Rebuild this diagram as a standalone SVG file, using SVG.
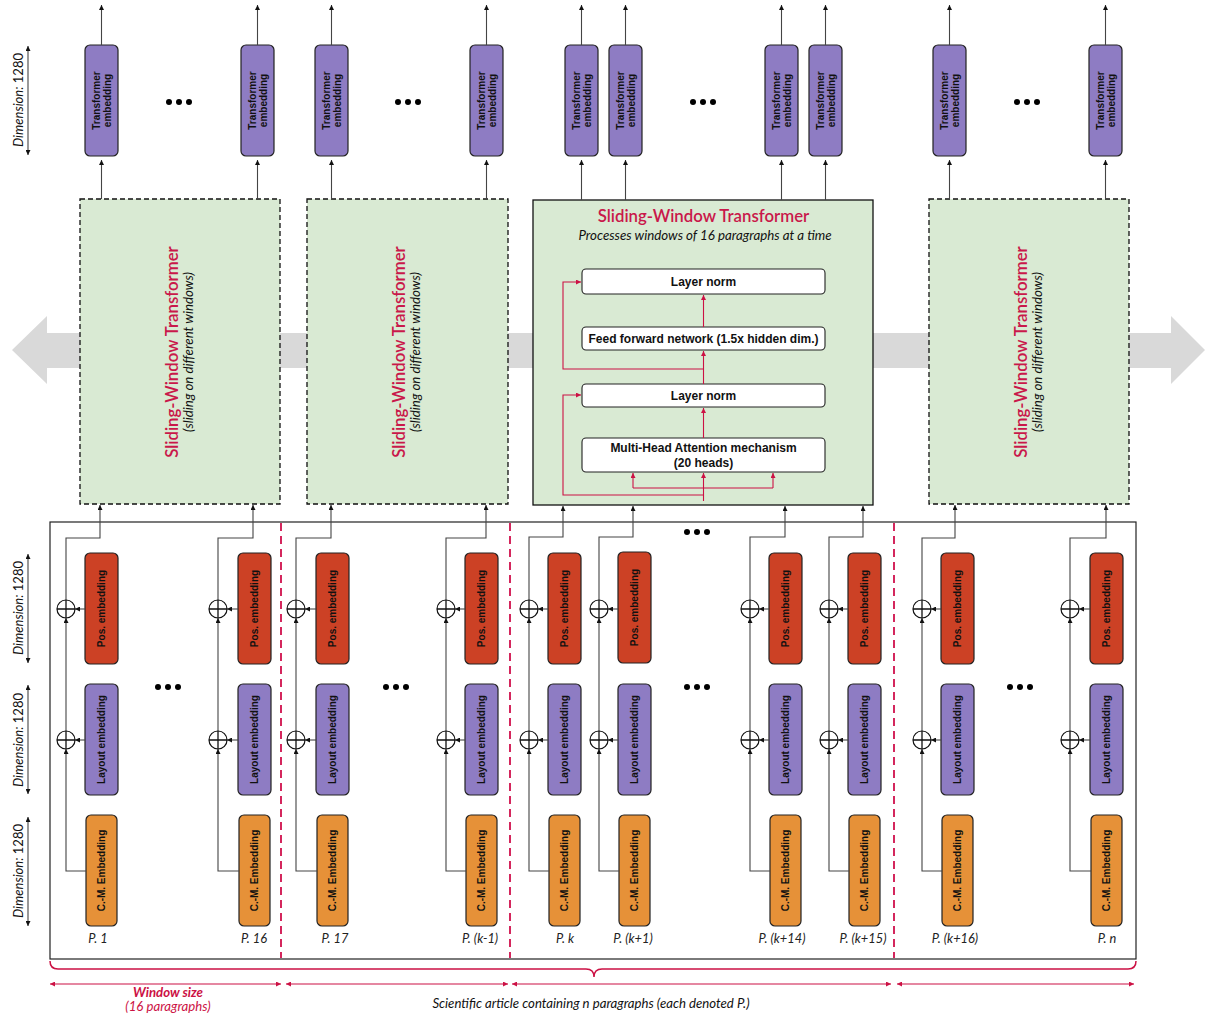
<svg xmlns="http://www.w3.org/2000/svg" width="1208" height="1019" viewBox="0 0 1208 1019">
<style>
.emb{fill:#8e7cc3;stroke:#222;stroke-width:1.2}
.pos{fill:#cc4125;stroke:#222;stroke-width:1.2}
.cm{fill:#e69138;stroke:#222;stroke-width:1.2}
.sw{fill:#d9ead3;stroke:#111;stroke-width:1.3;stroke-dasharray:5 3}
.swm{fill:#d9ead3;stroke:#111;stroke-width:1.3}
.inner{fill:#fff;stroke:#222;stroke-width:1.1}
.bt{font-family:"Liberation Sans",Arial,sans-serif;font-weight:bold;font-size:10px;fill:#111;text-anchor:middle;dominant-baseline:central}
.it{font-family:"Liberation Sans",Arial,sans-serif;font-weight:bold;font-size:12px;fill:#111;text-anchor:middle}
.ttl{font-family:Lato,"Open Sans",sans-serif;font-weight:600;font-size:16.8px;fill:#c9184a;text-anchor:middle}
.sub{font-family:Lato,"Open Sans",sans-serif;font-style:italic;font-size:13.3px;fill:#111;text-anchor:middle}
.pl{font-family:Lato,"Open Sans",sans-serif;font-style:italic;font-size:12.8px;fill:#222;text-anchor:middle}
.dim{font-family:Lato,"Open Sans",sans-serif;font-size:13px;fill:#111;text-anchor:middle}
.ln{fill:none;stroke:#444;stroke-width:1.1}
.rl{fill:none;stroke:#cc1144;stroke-width:1.1}
.pc{fill:#fff;stroke:#111;stroke-width:1.2}
.pp{stroke:#111;stroke-width:1.3}
.dot{fill:#000}
.rd{stroke:#d0104c;stroke-width:1.8;stroke-dasharray:8 5;fill:none}
.ann{font-family:Lato,"Open Sans",sans-serif;font-style:italic;font-size:13.2px;text-anchor:middle}
</style>
<defs>
<marker id="ah" viewBox="0 0 6 6" refX="6" refY="3" markerWidth="5" markerHeight="5" orient="auto-start-reverse" markerUnits="userSpaceOnUse"><path d="M0,0 L6,3 L0,6z" fill="#111"/></marker>
<marker id="rh" viewBox="0 0 6 6" refX="6" refY="3" markerWidth="5" markerHeight="5" orient="auto-start-reverse" markerUnits="userSpaceOnUse"><path d="M0,0 L6,3 L0,6z" fill="#cc1144"/></marker>
</defs>
<rect width="1208" height="1019" fill="#fff"/>

<polygon id="slide-arrow" points="12,350 47,316 47,333 1171,333 1171,316 1205,350 1171,384 1171,368 47,368 47,384" fill="#d9d9d9"/>

<g id="dimensions">
<line class="ln" x1="28" y1="46" x2="28" y2="155" marker-start="url(#ah)" marker-end="url(#ah)"/>
<text class="dim" transform="rotate(-90 23 100)" x="23" y="100"><tspan font-style="italic">Dimension:</tspan> 1280</text>
<line class="ln" x1="28" y1="554" x2="28" y2="663" marker-start="url(#ah)" marker-end="url(#ah)"/>
<text class="dim" transform="rotate(-90 23 608)" x="23" y="608"><tspan font-style="italic">Dimension:</tspan> 1280</text>
<line class="ln" x1="28" y1="685" x2="28" y2="794" marker-start="url(#ah)" marker-end="url(#ah)"/>
<text class="dim" transform="rotate(-90 23 740)" x="23" y="740"><tspan font-style="italic">Dimension:</tspan> 1280</text>
<line class="ln" x1="28" y1="817" x2="28" y2="926" marker-start="url(#ah)" marker-end="url(#ah)"/>
<text class="dim" transform="rotate(-90 23 871)" x="23" y="871"><tspan font-style="italic">Dimension:</tspan> 1280</text>
</g>

<g id="transformer-embeddings">
<g id="te1"><rect class="emb" x="85" y="45" width="33" height="111" rx="5"/><text class="bt" transform="rotate(-90 101.5 100.5)" x="101.5" y="100.5"><tspan x="101.5" dy="-5.5">Transformer</tspan><tspan x="101.5" dy="11">embedding</tspan></text></g>
<g id="te2"><rect class="emb" x="241" y="45" width="33" height="111" rx="5"/><text class="bt" transform="rotate(-90 257.5 100.5)" x="257.5" y="100.5"><tspan x="257.5" dy="-5.5">Transformer</tspan><tspan x="257.5" dy="11">embedding</tspan></text></g>
<g id="te3"><rect class="emb" x="315" y="45" width="33" height="111" rx="5"/><text class="bt" transform="rotate(-90 331.5 100.5)" x="331.5" y="100.5"><tspan x="331.5" dy="-5.5">Transformer</tspan><tspan x="331.5" dy="11">embedding</tspan></text></g>
<g id="te4"><rect class="emb" x="470" y="45" width="33" height="111" rx="5"/><text class="bt" transform="rotate(-90 486.5 100.5)" x="486.5" y="100.5"><tspan x="486.5" dy="-5.5">Transformer</tspan><tspan x="486.5" dy="11">embedding</tspan></text></g>
<g id="te5"><rect class="emb" x="565" y="45" width="33" height="111" rx="5"/><text class="bt" transform="rotate(-90 581.5 100.5)" x="581.5" y="100.5"><tspan x="581.5" dy="-5.5">Transformer</tspan><tspan x="581.5" dy="11">embedding</tspan></text></g>
<g id="te6"><rect class="emb" x="609" y="45" width="33" height="111" rx="5"/><text class="bt" transform="rotate(-90 625.5 100.5)" x="625.5" y="100.5"><tspan x="625.5" dy="-5.5">Transformer</tspan><tspan x="625.5" dy="11">embedding</tspan></text></g>
<g id="te7"><rect class="emb" x="765" y="45" width="33" height="111" rx="5"/><text class="bt" transform="rotate(-90 781.5 100.5)" x="781.5" y="100.5"><tspan x="781.5" dy="-5.5">Transformer</tspan><tspan x="781.5" dy="11">embedding</tspan></text></g>
<g id="te8"><rect class="emb" x="809" y="45" width="33" height="111" rx="5"/><text class="bt" transform="rotate(-90 825.5 100.5)" x="825.5" y="100.5"><tspan x="825.5" dy="-5.5">Transformer</tspan><tspan x="825.5" dy="11">embedding</tspan></text></g>
<g id="te9"><rect class="emb" x="933" y="45" width="33" height="111" rx="5"/><text class="bt" transform="rotate(-90 949.5 100.5)" x="949.5" y="100.5"><tspan x="949.5" dy="-5.5">Transformer</tspan><tspan x="949.5" dy="11">embedding</tspan></text></g>
<g id="te10"><rect class="emb" x="1089" y="45" width="33" height="111" rx="5"/><text class="bt" transform="rotate(-90 1105.5 100.5)" x="1105.5" y="100.5"><tspan x="1105.5" dy="-5.5">Transformer</tspan><tspan x="1105.5" dy="11">embedding</tspan></text></g>
</g>

<g id="ellipses">
<circle class="dot" cx="169" cy="102" r="3"/><circle class="dot" cx="179" cy="102" r="3"/><circle class="dot" cx="189" cy="102" r="3"/>
<circle class="dot" cx="398" cy="102" r="3"/><circle class="dot" cx="408" cy="102" r="3"/><circle class="dot" cx="418" cy="102" r="3"/>
<circle class="dot" cx="693" cy="102" r="3"/><circle class="dot" cx="703" cy="102" r="3"/><circle class="dot" cx="713" cy="102" r="3"/>
<circle class="dot" cx="1017" cy="102" r="3"/><circle class="dot" cx="1027" cy="102" r="3"/><circle class="dot" cx="1037" cy="102" r="3"/>
<circle class="dot" cx="158" cy="687" r="3"/><circle class="dot" cx="168" cy="687" r="3"/><circle class="dot" cx="178" cy="687" r="3"/>
<circle class="dot" cx="386" cy="687" r="3"/><circle class="dot" cx="396" cy="687" r="3"/><circle class="dot" cx="406" cy="687" r="3"/>
<circle class="dot" cx="687" cy="687" r="3"/><circle class="dot" cx="697" cy="687" r="3"/><circle class="dot" cx="707" cy="687" r="3"/>
<circle class="dot" cx="1010" cy="687" r="3"/><circle class="dot" cx="1020" cy="687" r="3"/><circle class="dot" cx="1030" cy="687" r="3"/>
<circle class="dot" cx="687" cy="532" r="3"/><circle class="dot" cx="697" cy="532" r="3"/><circle class="dot" cx="707" cy="532" r="3"/>
</g>

<g id="sw1"><rect class="sw" x="80" y="199" width="200" height="305"/>
<text class="ttl" transform="rotate(-90 178 352)" x="178" y="352">Sliding-Window Transformer</text>
<text class="sub" transform="rotate(-90 193 352)" x="193" y="352" font-size="12.7">(sliding on different windows)</text></g>
<g id="sw2"><rect class="sw" x="307" y="199" width="201" height="305"/>
<text class="ttl" transform="rotate(-90 405 352)" x="405" y="352">Sliding-Window Transformer</text>
<text class="sub" transform="rotate(-90 420 352)" x="420" y="352" font-size="12.7">(sliding on different windows)</text></g>
<g id="sw4"><rect class="sw" x="929" y="199" width="200" height="305"/>
<text class="ttl" transform="rotate(-90 1027 352)" x="1027" y="352">Sliding-Window Transformer</text>
<text class="sub" transform="rotate(-90 1042 352)" x="1042" y="352" font-size="12.7">(sliding on different windows)</text></g>

<g id="sw-main"><rect class="swm" x="533" y="200" width="340" height="305"/>
<text class="ttl" x="703.5" y="222">Sliding-Window Transformer</text>
<text class="sub" x="705" y="240">Processes windows of 16 paragraphs at a time</text></g>
<g id="ln1"><rect class="inner" x="582" y="269" width="243" height="25" rx="4"/><text class="it" x="703.5" y="286">Layer norm</text></g>
<g id="ffn"><rect class="inner" x="582" y="327" width="243" height="23" rx="4"/><text class="it" x="703.5" y="342.5" font-size="10.3">Feed forward network (1.5x hidden dim.)</text></g>
<g id="ln2"><rect class="inner" x="582" y="384" width="243" height="23" rx="4"/><text class="it" x="703.5" y="400">Layer norm</text></g>
<g id="mha"><rect class="inner" x="582" y="438" width="243" height="34" rx="4"/><text class="it" x="703.5" y="452">Multi-Head Attention mechanism</text><text class="it" x="703.5" y="467">(20 heads)</text></g>

<rect id="article" x="50" y="522" width="1086" height="437" fill="none" stroke="#222" stroke-width="1.2"/>
<g id="window-separators">
<line class="rd" x1="281" y1="523" x2="281" y2="958"/>
<line class="rd" x1="510" y1="523" x2="510" y2="958"/>
<line class="rd" x1="894" y1="523" x2="894" y2="958"/>
</g>

<g id="p1"><rect class="pos" x="85" y="553" width="33" height="111" rx="5"/><text class="bt" transform="rotate(-90 101.5 608.5)" x="101.5" y="608.5">Pos. embedding</text><rect class="emb" x="85" y="684" width="33" height="111" rx="5"/><text class="bt" transform="rotate(-90 101.5 739.5)" x="101.5" y="739.5">Layout embedding</text><rect class="cm" x="86" y="815" width="31" height="111" rx="5"/><text class="bt" transform="rotate(-90 101.5 870.5)" x="101.5" y="870.5">C.-M. Embedding</text><text class="pl" x="98" y="943">P. 1</text></g>
<g id="p16"><rect class="pos" x="238" y="553" width="33" height="111" rx="5"/><text class="bt" transform="rotate(-90 254.5 608.5)" x="254.5" y="608.5">Pos. embedding</text><rect class="emb" x="238" y="684" width="33" height="111" rx="5"/><text class="bt" transform="rotate(-90 254.5 739.5)" x="254.5" y="739.5">Layout embedding</text><rect class="cm" x="239" y="815" width="31" height="111" rx="5"/><text class="bt" transform="rotate(-90 254.5 870.5)" x="254.5" y="870.5">C.-M. Embedding</text><text class="pl" x="254" y="943">P. 16</text></g>
<g id="p17"><rect class="pos" x="316" y="553" width="33" height="111" rx="5"/><text class="bt" transform="rotate(-90 332.5 608.5)" x="332.5" y="608.5">Pos. embedding</text><rect class="emb" x="316" y="684" width="33" height="111" rx="5"/><text class="bt" transform="rotate(-90 332.5 739.5)" x="332.5" y="739.5">Layout embedding</text><rect class="cm" x="317" y="815" width="31" height="111" rx="5"/><text class="bt" transform="rotate(-90 332.5 870.5)" x="332.5" y="870.5">C.-M. Embedding</text><text class="pl" x="335" y="943">P. 17</text></g>
<g id="pk-1"><rect class="pos" x="465" y="553" width="33" height="111" rx="5"/><text class="bt" transform="rotate(-90 481.5 608.5)" x="481.5" y="608.5">Pos. embedding</text><rect class="emb" x="465" y="684" width="33" height="111" rx="5"/><text class="bt" transform="rotate(-90 481.5 739.5)" x="481.5" y="739.5">Layout embedding</text><rect class="cm" x="466" y="815" width="31" height="111" rx="5"/><text class="bt" transform="rotate(-90 481.5 870.5)" x="481.5" y="870.5">C.-M. Embedding</text><text class="pl" x="480" y="943">P. (k-1)</text></g>
<g id="pk"><rect class="pos" x="548" y="553" width="33" height="111" rx="5"/><text class="bt" transform="rotate(-90 564.5 608.5)" x="564.5" y="608.5">Pos. embedding</text><rect class="emb" x="548" y="684" width="33" height="111" rx="5"/><text class="bt" transform="rotate(-90 564.5 739.5)" x="564.5" y="739.5">Layout embedding</text><rect class="cm" x="549" y="815" width="31" height="111" rx="5"/><text class="bt" transform="rotate(-90 564.5 870.5)" x="564.5" y="870.5">C.-M. Embedding</text><text class="pl" x="565" y="943">P. k</text></g>
<g id="pk1"><rect class="pos" x="618" y="552" width="33" height="111" rx="5"/><text class="bt" transform="rotate(-90 634.5 607.5)" x="634.5" y="607.5">Pos. embedding</text><rect class="emb" x="618" y="684" width="33" height="111" rx="5"/><text class="bt" transform="rotate(-90 634.5 739.5)" x="634.5" y="739.5">Layout embedding</text><rect class="cm" x="619" y="815" width="31" height="111" rx="5"/><text class="bt" transform="rotate(-90 634.5 870.5)" x="634.5" y="870.5">C.-M. Embedding</text><text class="pl" x="633" y="943">P. (k+1)</text></g>
<g id="pk14"><rect class="pos" x="769" y="553" width="33" height="111" rx="5"/><text class="bt" transform="rotate(-90 785.5 608.5)" x="785.5" y="608.5">Pos. embedding</text><rect class="emb" x="769" y="684" width="33" height="111" rx="5"/><text class="bt" transform="rotate(-90 785.5 739.5)" x="785.5" y="739.5">Layout embedding</text><rect class="cm" x="770" y="815" width="31" height="111" rx="5"/><text class="bt" transform="rotate(-90 785.5 870.5)" x="785.5" y="870.5">C.-M. Embedding</text><text class="pl" x="782" y="943">P. (k+14)</text></g>
<g id="pk15"><rect class="pos" x="848" y="553" width="33" height="111" rx="5"/><text class="bt" transform="rotate(-90 864.5 608.5)" x="864.5" y="608.5">Pos. embedding</text><rect class="emb" x="848" y="684" width="33" height="111" rx="5"/><text class="bt" transform="rotate(-90 864.5 739.5)" x="864.5" y="739.5">Layout embedding</text><rect class="cm" x="849" y="815" width="31" height="111" rx="5"/><text class="bt" transform="rotate(-90 864.5 870.5)" x="864.5" y="870.5">C.-M. Embedding</text><text class="pl" x="863" y="943">P. (k+15)</text></g>
<g id="pk16"><rect class="pos" x="941" y="553" width="33" height="111" rx="5"/><text class="bt" transform="rotate(-90 957.5 608.5)" x="957.5" y="608.5">Pos. embedding</text><rect class="emb" x="941" y="684" width="33" height="111" rx="5"/><text class="bt" transform="rotate(-90 957.5 739.5)" x="957.5" y="739.5">Layout embedding</text><rect class="cm" x="942" y="815" width="31" height="111" rx="5"/><text class="bt" transform="rotate(-90 957.5 870.5)" x="957.5" y="870.5">C.-M. Embedding</text><text class="pl" x="955" y="943">P. (k+16)</text></g>
<g id="pn"><rect class="pos" x="1090" y="553" width="33" height="111" rx="5"/><text class="bt" transform="rotate(-90 1106.5 608.5)" x="1106.5" y="608.5">Pos. embedding</text><rect class="emb" x="1090" y="684" width="33" height="111" rx="5"/><text class="bt" transform="rotate(-90 1106.5 739.5)" x="1106.5" y="739.5">Layout embedding</text><rect class="cm" x="1091" y="815" width="31" height="111" rx="5"/><text class="bt" transform="rotate(-90 1106.5 870.5)" x="1106.5" y="870.5">C.-M. Embedding</text><text class="pl" x="1107" y="943">P. n</text></g>

<g id="connectors">
<g marker-end="url(#ah)" class="ln">
<line x1="101.5" y1="45" x2="101.5" y2="5"/><line x1="257.5" y1="45" x2="257.5" y2="5"/><line x1="331.5" y1="45" x2="331.5" y2="5"/><line x1="486.5" y1="45" x2="486.5" y2="5"/><line x1="581.5" y1="45" x2="581.5" y2="5"/><line x1="625.5" y1="45" x2="625.5" y2="5"/><line x1="781.5" y1="45" x2="781.5" y2="5"/><line x1="825.5" y1="45" x2="825.5" y2="5"/><line x1="949.5" y1="45" x2="949.5" y2="5"/><line x1="1105.5" y1="45" x2="1105.5" y2="5"/>
<line x1="101.5" y1="199" x2="101.5" y2="160"/><line x1="257.5" y1="199" x2="257.5" y2="160"/><line x1="331.5" y1="199" x2="331.5" y2="160"/><line x1="486.5" y1="199" x2="486.5" y2="160"/><line x1="581.5" y1="200" x2="581.5" y2="160"/><line x1="625.5" y1="200" x2="625.5" y2="160"/><line x1="781.5" y1="200" x2="781.5" y2="160"/><line x1="825.5" y1="200" x2="825.5" y2="160"/><line x1="949.5" y1="199" x2="949.5" y2="160"/><line x1="1105.5" y1="199" x2="1105.5" y2="160"/>
<path d="M66,600 V538 H100 V505"/><path d="M218,600 V538 H253 V505"/><path d="M296,600 V538 H331 V505"/><path d="M446,600 V538 H486 V505"/><path d="M529,600 V537 H563 V506"/><path d="M599,600 V537 H633 V506"/><path d="M750,600 V537 H785 V506"/><path d="M829,600 V537 H863 V506"/><path d="M922,600 V538 H955 V505"/><path d="M1070,600 V538 H1106 V505"/>
<line x1="85" y1="609" x2="75" y2="609"/><line x1="238" y1="609" x2="227" y2="609"/><line x1="316" y1="609" x2="305" y2="609"/><line x1="465" y1="609" x2="455" y2="609"/><line x1="548" y1="609" x2="538" y2="609"/><line x1="618" y1="609" x2="608" y2="609"/><line x1="769" y1="609" x2="759" y2="609"/><line x1="848" y1="609" x2="838" y2="609"/><line x1="941" y1="609" x2="931" y2="609"/><line x1="1090" y1="609" x2="1079" y2="609"/>
<line x1="85" y1="740" x2="75" y2="740"/><line x1="238" y1="740" x2="227" y2="740"/><line x1="316" y1="740" x2="305" y2="740"/><line x1="465" y1="740" x2="455" y2="740"/><line x1="548" y1="740" x2="538" y2="740"/><line x1="618" y1="740" x2="608" y2="740"/><line x1="769" y1="740" x2="759" y2="740"/><line x1="848" y1="740" x2="838" y2="740"/><line x1="941" y1="740" x2="931" y2="740"/><line x1="1090" y1="740" x2="1079" y2="740"/>
<line x1="66" y1="731" x2="66" y2="618"/><line x1="218" y1="731" x2="218" y2="618"/><line x1="296" y1="731" x2="296" y2="618"/><line x1="446" y1="731" x2="446" y2="618"/><line x1="529" y1="731" x2="529" y2="618"/><line x1="599" y1="731" x2="599" y2="618"/><line x1="750" y1="731" x2="750" y2="618"/><line x1="829" y1="731" x2="829" y2="618"/><line x1="922" y1="731" x2="922" y2="618"/><line x1="1070" y1="731" x2="1070" y2="618"/>
<path d="M86,871 H66 V749"/><path d="M239,871 H218 V749"/><path d="M317,871 H296 V749"/><path d="M466,871 H446 V749"/><path d="M549,871 H529 V749"/><path d="M619,871 H599 V749"/><path d="M770,871 H750 V749"/><path d="M849,871 H829 V749"/><path d="M942,871 H922 V749"/><path d="M1091,871 H1070 V749"/>
</g>
<g class="rl" marker-end="url(#rh)">
<line x1="703.5" y1="501" x2="703.5" y2="473"/>
<path d="M633,488 V473"/><path d="M773,488 V473"/>
<path d="M703.5,495 H563 V395 H581"/>
<line x1="703.5" y1="438" x2="703.5" y2="408"/>
<line x1="703.5" y1="384" x2="703.5" y2="351"/>
<line x1="703.5" y1="327" x2="703.5" y2="295"/>
<path d="M703.5,369 H563 V282 H581"/>
</g>
<path class="rl" d="M633,488 H773"/>
</g>

<g id="plus-nodes">
<g><circle class="pc" cx="66" cy="609" r="9"/><path class="pp" d="M57,609 H75 M66,600 V618"/><circle class="pc" cx="66" cy="740" r="9"/><path class="pp" d="M57,740 H75 M66,731 V749"/></g>
<g><circle class="pc" cx="218" cy="609" r="9"/><path class="pp" d="M209,609 H227 M218,600 V618"/><circle class="pc" cx="218" cy="740" r="9"/><path class="pp" d="M209,740 H227 M218,731 V749"/></g>
<g><circle class="pc" cx="296" cy="609" r="9"/><path class="pp" d="M287,609 H305 M296,600 V618"/><circle class="pc" cx="296" cy="740" r="9"/><path class="pp" d="M287,740 H305 M296,731 V749"/></g>
<g><circle class="pc" cx="446" cy="609" r="9"/><path class="pp" d="M437,609 H455 M446,600 V618"/><circle class="pc" cx="446" cy="740" r="9"/><path class="pp" d="M437,740 H455 M446,731 V749"/></g>
<g><circle class="pc" cx="529" cy="609" r="9"/><path class="pp" d="M520,609 H538 M529,600 V618"/><circle class="pc" cx="529" cy="740" r="9"/><path class="pp" d="M520,740 H538 M529,731 V749"/></g>
<g><circle class="pc" cx="599" cy="609" r="9"/><path class="pp" d="M590,609 H608 M599,600 V618"/><circle class="pc" cx="599" cy="740" r="9"/><path class="pp" d="M590,740 H608 M599,731 V749"/></g>
<g><circle class="pc" cx="750" cy="609" r="9"/><path class="pp" d="M741,609 H759 M750,600 V618"/><circle class="pc" cx="750" cy="740" r="9"/><path class="pp" d="M741,740 H759 M750,731 V749"/></g>
<g><circle class="pc" cx="829" cy="609" r="9"/><path class="pp" d="M820,609 H838 M829,600 V618"/><circle class="pc" cx="829" cy="740" r="9"/><path class="pp" d="M820,740 H838 M829,731 V749"/></g>
<g><circle class="pc" cx="922" cy="609" r="9"/><path class="pp" d="M913,609 H931 M922,600 V618"/><circle class="pc" cx="922" cy="740" r="9"/><path class="pp" d="M913,740 H931 M922,731 V749"/></g>
<g><circle class="pc" cx="1070" cy="609" r="9"/><path class="pp" d="M1061,609 H1079 M1070,600 V618"/><circle class="pc" cx="1070" cy="740" r="9"/><path class="pp" d="M1061,740 H1079 M1070,731 V749"/></g>
</g>

<g id="bottom-annotations">
<path d="M50,961 Q50,969 58,969 H586 Q594,969 594,977 Q594,969 602,969 H1128 Q1136,969 1136,961" fill="none" stroke="#cc1144" stroke-width="1.5"/>
<g class="rl" marker-start="url(#rh)" marker-end="url(#rh)">
<line x1="50" y1="984" x2="281" y2="984"/>
<line x1="286" y1="984" x2="508" y2="984"/>
<line x1="512" y1="984" x2="891" y2="984"/>
<line x1="897" y1="984" x2="1134" y2="984"/>
</g>
<text class="ann" x="168" y="997" font-weight="bold" fill="#cc1144">Window size</text>
<text class="ann" x="168" y="1011" fill="#cc1144">(16 paragraphs)</text>
<text class="ann" x="591" y="1008" fill="#111">Scientific article containing n paragraphs (each denoted P.)</text>
</g>
</svg>
